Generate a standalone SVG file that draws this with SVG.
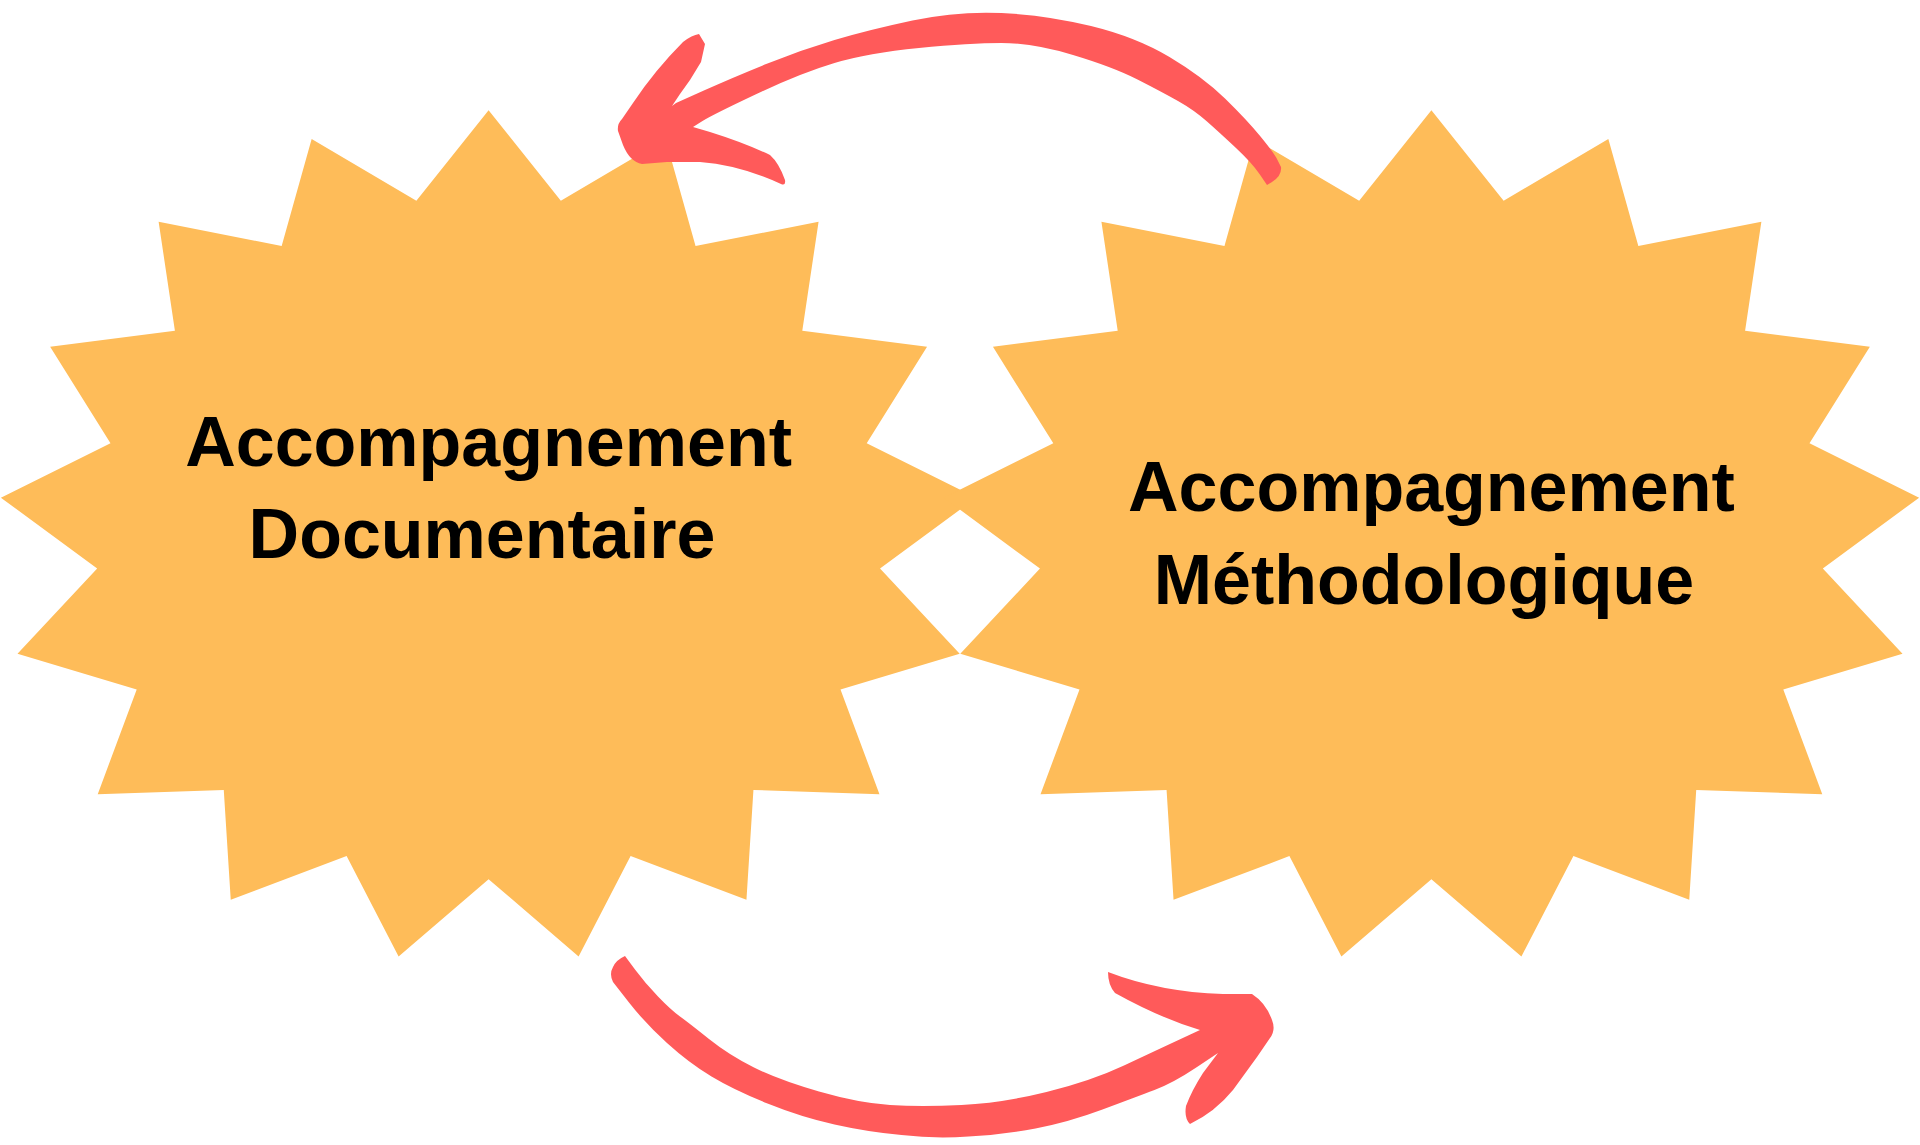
<svg xmlns="http://www.w3.org/2000/svg" xmlns:xlink="http://www.w3.org/1999/xlink" width="1920" height="1145" viewBox="0 0 1920 1145">
<style>
.star{fill:#FEBC59}
.lbl{font-family:"Liberation Sans",Arial,sans-serif;font-weight:bold;font-size:70px;fill:#000;text-anchor:middle}
.arrow{fill:#FF5A5A}
</style>
<defs>
<polygon id="star" points="0,-426.7 72.23,-336.37 176.94,-397.88 206.94,-290.95 329.98,-315.34 313.70,-206.22 438.45,-190.19 378.10,-93.65 487.71,-39.37 391.42,31.57 471.10,116.77 351.89,152.53 390.87,257.14 264.83,252.89 257.85,362.79 142.00,319.09 90.00,419.43 0,342.2 -90.00,419.43 -142.00,319.09 -257.85,362.79 -264.83,252.89 -390.87,257.14 -351.89,152.53 -471.10,116.77 -391.42,31.57 -487.71,-39.37 -378.10,-93.65 -438.45,-190.19 -313.70,-206.22 -329.98,-315.34 -206.94,-290.95 -176.94,-397.88 -72.23,-336.37"/>
</defs>
<rect width="1920" height="1145" fill="#FFFFFF"/>
<g id="node-documentaire">
<use xlink:href="#star" href="#star" class="star" transform="translate(488.6,537)"/>
<text class="lbl" x="488.6" y="466">Accompagnement</text>
<text class="lbl" x="482" y="558">Documentaire</text>
</g>
<g id="node-methodologique">
<use xlink:href="#star" href="#star" class="star" transform="translate(1431.4,537)"/>
<text class="lbl" x="1431.4" y="511">Accompagnement</text>
<text class="lbl" x="1424" y="604">Méthodologique</text>
</g>
<g id="connectors">
<path id="arrow-top" class="arrow" d="M699,34 L705,44 L701,62 L690,80 L680,94 L672,106 L676,103 L705,90 Q734,77 767.5,63.5 Q801,50 834.5,40 Q868,30 912.5,20.5 Q957,11 1001.5,13 Q1046,15 1091,26 Q1136,37 1169.5,57 Q1203,77 1225,98.5 Q1247,120 1260.5,136.5 Q1274,153 1277.5,160 L1281,167 Q1282,176 1272,182 L1267,185 L1259.5,174 Q1252,163 1236,148 Q1220,133 1207,121.5 Q1194,110 1178,101 Q1162,92 1137.5,79.5 Q1113,67 1073,55 Q1033,43 1001.5,43 Q970,43 919,48 Q868,53 834.5,63 Q801,73 756.5,94 Q712,115 702.5,121 L693,127 L710,132 Q745,143 770,155 Q779,163 785,180 Q786,186 781,184 Q740,165 700,162 L667,162 L642,164 Q630,162 623,145 L618,131 Q617,124 622,119 L633,103 Q655,70 683,42 Q692,35 699,34 Z"/>
<path id="arrow-bottom" class="arrow" d="M625,956 Q616,960 613,967 Q609,974 613,982 L629,1002.5 Q645,1023 667,1043 Q689,1063 711.5,1076.5 Q734,1090 767.5,1103.5 Q801,1117 834.5,1124.5 Q868,1132 901.5,1135 Q935,1139 968.5,1136.5 Q1002,1135 1035.5,1128.5 Q1069,1122 1102.5,1109.5 Q1136,1097 1154.5,1090 Q1173,1083 1195.5,1068 L1218,1053 L1203,1073 Q1192,1090 1186,1106 Q1184,1118 1190,1124 Q1215,1112 1233,1090 L1257,1057 L1270,1038 Q1276,1030 1272,1020 Q1266,1003 1252,994 L1223,994 Q1160,992 1108,972 Q1108,985 1115,993 Q1160,1018 1200,1030 L1178.5,1040 Q1157,1050 1124,1065.5 Q1091,1081 1046.5,1092 Q1002,1103 961.5,1105 Q921,1107 890,1105 Q859,1103 819,1091.5 Q779,1080 754,1067.5 Q729,1055 709,1039 Q689,1023 680,1016.5 Q671,1010 658,996.5 Q645,983 635,969.5 L625,956 Z"/>
</g>
</svg>
